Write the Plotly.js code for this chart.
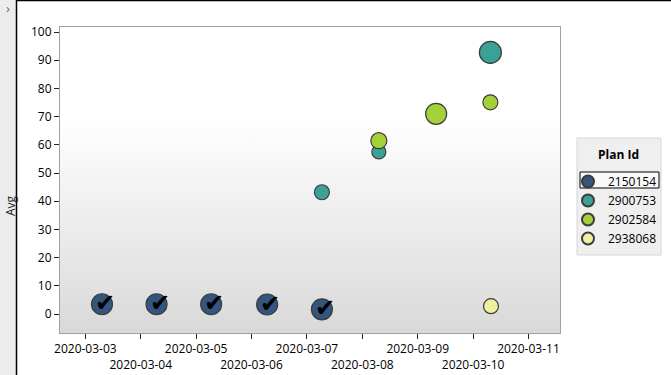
<!DOCTYPE html>
<html>
<head>
<meta charset="utf-8">
<script src="https://cdn.plot.ly/plotly-3.0.1.min.js"></script>
<style>html,body{margin:0;padding:0;background:#fff;}#chart{width:671px;height:375px;}</style>
</head>
<body>
<div id="chart"></div>
<script>
// ---- data ----
const planIds = ["2150154", "2900753", "2902584", "2938068"];
const legendTitle = "Plan Id";
const yTitle = "Avg";

const dates2150154 = ["2020-03-03 07:12", "2020-03-04 06:50", "2020-03-05 06:30", "2020-03-06 06:45", "2020-03-07 06:30"];
const avg2150154 = [3.5, 3.5, 3.5, 3.4, 1.7];
const weight2150154 = [21, 21, 21, 21, 21];

const dates2900753 = ["2020-03-07 06:30", "2020-03-08 07:10", "2020-03-10 07:30"];
const avg2900753 = [43.2, 57.5, 92.8];
const weight2900753 = [15, 14, 22];

const dates2902584 = ["2020-03-08 07:10", "2020-03-09 08:00", "2020-03-10 07:30"];
const avg2902584 = [61.5, 71.0, 75.1];
const weight2902584 = [16, 21, 15];

const dates2938068 = ["2020-03-10 07:45"];
const avg2938068 = [2.8];
const weight2938068 = [15];

const xTickDates = ["2020-03-03", "2020-03-04", "2020-03-05", "2020-03-06", "2020-03-07", "2020-03-08", "2020-03-09", "2020-03-10", "2020-03-11"];
const yTicks = [0, 10, 20, 30, 40, 50, 60, 70, 80, 90, 100];

// ---- styles ----
const FONT = "Open Sans, Noto Sans, sans-serif";
const seriesStyle = {
  "2150154": {color: "#33557f"},
  "2900753": {color: "#3ba195"},
  "2902584": {color: "#a4d039"},
  "2938068": {color: "#eef09f"}
};
const seriesData = {
  "2150154": [dates2150154, avg2150154, weight2150154],
  "2900753": [dates2900753, avg2900753, weight2900753],
  "2902584": [dates2902584, avg2902584, weight2902584],
  "2938068": [dates2938068, avg2938068, weight2938068]
};

const traces = planIds.map(id => {
  const [x, y, w] = seriesData[id];
  const st = seriesStyle[id];
  return {
    type: "scatter", mode: "markers", name: id, x: x, y: y,
    marker: {
      size: w, color: st.color, opacity: 1,
      line: {color: "#3c3c3c", width: 1.2}
    },
    hoverinfo: "x+y+name"
  };
});

const gradSvg = '<svg xmlns="http://www.w3.org/2000/svg" width="100" height="100" preserveAspectRatio="none">' +
  '<defs><linearGradient id="g" x1="0" y1="0" x2="0" y2="1">' +
  '<stop offset="0" stop-color="#ffffff"/><stop offset="0.3" stop-color="#ffffff"/>' +
  '<stop offset="1" stop-color="#d9d9d9"/></linearGradient></defs>' +
  '<rect width="100" height="100" fill="url(#g)"/></svg>';

const L = 60, R = 560, T = 27, B = 333, W = 671, H = 375;
const px = p => (p - L) / (R - L);
const py = p => (B - p) / (B - T);

// check marks over the first plan's points (positioned by data)
const checkAnnotations = dates2150154.map((d, i) => ({
  x: d, y: avg2150154[i], xref: "x", yref: "y", text: "✔",
  showarrow: false, xshift: 3, yshift: 1,
  font: {family: "DejaVu Sans", size: 24, color: "#000"}
}));

const layout = {
  width: W, height: H,
  margin: {l: L, r: W - R, t: T, b: H - B, pad: 0},
  paper_bgcolor: "#ffffff",
  plot_bgcolor: "rgba(0,0,0,0)",
  font: {family: FONT, size: 12, color: "#000"},
  showlegend: true,
  xaxis: {
    type: "date",
    range: ["2020-03-02 13:00", "2020-03-11 13:40"],
    tickmode: "array",
    tickvals: xTickDates,
    ticktext: xTickDates.map((d, i) => i % 2 === 0 ? d : "<br>" + d),
    tickangle: 0, automargin: false,
    ticks: "outside", ticklen: 5, tickcolor: "#222", tickwidth: 1,
    showgrid: false, zeroline: false,
    showline: true, linecolor: "#a0a0a0", linewidth: 1, mirror: true,
    tickfont: {family: FONT, size: 12, color: "#000"}
  },
  yaxis: {
    range: [-6.7, 101.8], automargin: false,
    tickmode: "array", tickvals: yTicks,
    ticks: "outside", ticklen: 5, tickcolor: "#222", tickwidth: 1,
    showgrid: false, zeroline: false,
    showline: true, linecolor: "#a0a0a0", linewidth: 1, mirror: true,
    tickfont: {family: FONT, size: 12, color: "#000"}
  },
  legend: {
    xref: "container", yref: "container",
    x: 568 / W, y: 1 - 167 / H, xanchor: "left", yanchor: "top",
    bgcolor: "rgba(0,0,0,0)", borderwidth: 0,
    itemsizing: "constant", itemwidth: 30,
    font: {family: FONT, size: 12, color: "#000"},
    tracegroupgap: 0
  },
  images: [{
    source: "data:image/svg+xml;charset=utf-8," + encodeURIComponent(gradSvg),
    xref: "paper", yref: "paper", x: 0, y: 1, sizex: 1, sizey: 1,
    xanchor: "left", yanchor: "top", sizing: "stretch", layer: "below"
  }],
  shapes: [
    {type: "rect", xref: "paper", yref: "paper", x0: px(0), x1: px(16.5), y0: py(H), y1: py(0),
     fillcolor: "#ececec", line: {width: 0}, layer: "below"},
    {type: "line", xref: "paper", yref: "paper", x0: px(16.5), x1: px(16.5), y0: py(H), y1: py(0),
     line: {color: "#000", width: 1.5}},
    {type: "line", xref: "paper", yref: "paper", x0: px(16.5), x1: px(W), y0: py(0.5), y1: py(0.5),
     line: {color: "#000", width: 1.5}},
    // legend box
    {type: "rect", xref: "paper", yref: "paper", x0: px(577), x1: px(661), y0: py(255), y1: py(138),
     fillcolor: "#efefef", line: {color: "#d6d6d6", width: 1}, layer: "below"},
    // focus box around first legend item
    {type: "rect", xref: "paper", yref: "paper", x0: px(580), x1: px(659), y0: py(188), y1: py(172),
     fillcolor: "rgba(255,255,255,0.6)", line: {color: "#000", width: 1}, layer: "below"}
  ],
  annotations: [
    {text: yTitle, xref: "paper", yref: "paper", x: px(11), y: py(206), textangle: -90,
     xanchor: "center", yanchor: "middle",
     showarrow: false, font: {family: FONT, size: 12, color: "#222"}},
    {text: "›", xref: "paper", yref: "paper", x: px(8), y: py(8),
     xanchor: "center", yanchor: "middle",
     showarrow: false, font: {family: FONT, size: 13, color: "#666"}},
    {text: "<b>" + legendTitle + "</b>", xref: "paper", yref: "paper", x: px(618), y: py(154),
     xanchor: "center", yanchor: "middle",
     showarrow: false, font: {family: FONT, size: 12, color: "#000"}}
  ].concat(checkAnnotations)
};

Plotly.newPlot("chart", traces, layout, {displayModeBar: false, staticPlot: true});
</script>
</body>
</html>
